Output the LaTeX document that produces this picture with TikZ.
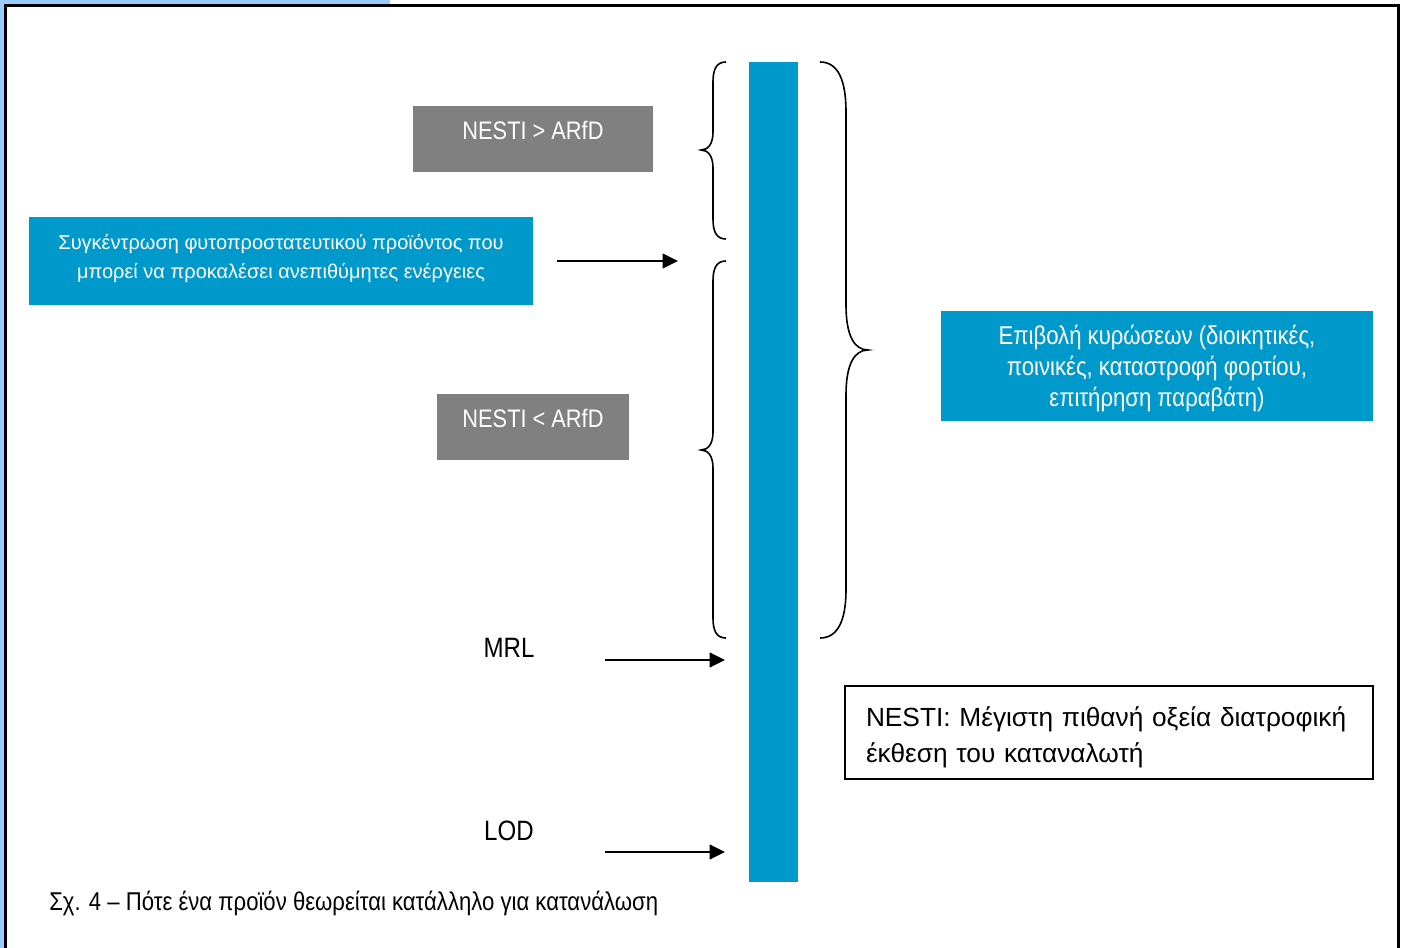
\documentclass[tikz,border=0pt]{standalone}
\usepackage{fontspec}
\setmainfont{Liberation Sans}
\newfontfamily\narrowfont{Liberation Sans}[FakeStretch=0.86]
\usetikzlibrary{arrows.meta}

\definecolor{barblue}{RGB}{0,153,204}
\definecolor{frameblue}{RGB}{153,204,255}
\definecolor{boxgray}{RGB}{128,128,128}

\tikzset{
  graybox/.style={fill=boxgray,text=white,minimum height=49.5pt,inner sep=0pt,
    font=\narrowfont\fontsize{19}{23}\selectfont,text height=13pt,text depth=12pt},
  bluebox/.style={fill=barblue,text=white,inner sep=0pt,align=center},
  limit/.style={font=\narrowfont\fontsize{21}{25}\selectfont},
  arr/.style={line width=1.2pt,-{Triangle[length=11.5pt,width=11pt]}},
  brace/.style={line width=1.2pt},
}

\begin{document}
\begin{tikzpicture}[x=0.75pt,y=-0.75pt]
\useasboundingbox (0,0) rectangle (1404,948);
\clip (0,0) rectangle (1404,948);

% page frame
\fill[frameblue] (0,0) rectangle (390,5);
\fill[frameblue] (0,0) rectangle (5,948);
\draw[line width=2.25pt] (5.5,5.5) rectangle (1398,960);

% the scale bar
\fill[barblue] (749,62) rectangle (798,882);

% braces
\draw[brace] (726,62) .. controls (716,62) and (713,70) .. (713,82) -- (713,132)
  .. controls (713,144) and (708,150) .. (701,150) .. controls (708,150) and (713,156) .. (713,168)
  -- (713,219) .. controls (713,231) and (716,239) .. (726,239);
\draw[brace] (726,261) .. controls (716,261) and (713,269) .. (713,281) -- (713,432)
  .. controls (713,444) and (708,450) .. (701,450) .. controls (708,450) and (713,456) .. (713,468)
  -- (713,618) .. controls (713,630) and (716,638) .. (726,638);
\draw[brace] (820,62) .. controls (838,62) and (846,80) .. (846,112) -- (846,305)
  .. controls (846,335) and (854,350) .. (868,350) .. controls (854,350) and (846,365) .. (846,395)
  -- (846,590) .. controls (846,620) and (838,638) .. (820,638);

% boxes
\node[graybox,minimum width=180pt] (high) at (533,139) {NESTI > ARfD};
\node[graybox,minimum width=144pt] (low) at (533,427) {NESTI < ARfD};
\node[bluebox,minimum width=378pt,minimum height=66pt,font=\fontsize{15}{21.75}\selectfont] (conc) at (281,261)
  {Συγκέντρωση φυτοπροστατευτικού προϊόντος που\\μπορεί να προκαλέσει ανεπιθύμητες ενέργειες\rule[-7.2pt]{0pt}{7.2pt}};
\node[bluebox,minimum width=324pt,minimum height=82.5pt,font=\narrowfont\fontsize{19.3}{23}\selectfont] (sanct) at (1157,366)
  {\rule{0pt}{18.5pt}Επιβολή κυρώσεων (διοικητικές,\\ποινικές, καταστροφή φορτίου,\\επιτήρηση παραβάτη)};
\node[draw,line width=1.2pt,minimum width=396pt,minimum height=69.75pt,inner xsep=15.75pt,inner ysep=0pt,
  text width=364.5pt,align=left,font=\fontsize{19.7}{27}\selectfont] (nesti) at (1109,732.5)
  {\rule{0pt}{21.5pt}NESTI: Μέγιστη πιθανή οξεία διατροφική\\έκθεση του καταναλωτή};

% limits
\node[limit] (mrl) at (509,648) {MRL};
\node[limit] (lod) at (509,831) {LOD};
\node[anchor=west,inner sep=0pt,font=\narrowfont\fontsize{19.3}{23}\selectfont] (caption) at (49,903)
  {Σχ. 4 – Πότε ένα προϊόν θεωρείται κατάλληλο για κατανάλωση};

% arrows
\coordinate (concend) at (678,261);
\coordinate (mrlstart) at (605,660);
\coordinate (mrlend) at (725,660);
\coordinate (lodstart) at (605,852);
\coordinate (lodend) at (725,852);
\draw[arr] ([xshift=18pt]conc.east |- concend) -- (concend);
\draw[arr] (mrlstart) -- (mrlend);
\draw[arr] (lodstart) -- (lodend);
\end{tikzpicture}
\end{document}
